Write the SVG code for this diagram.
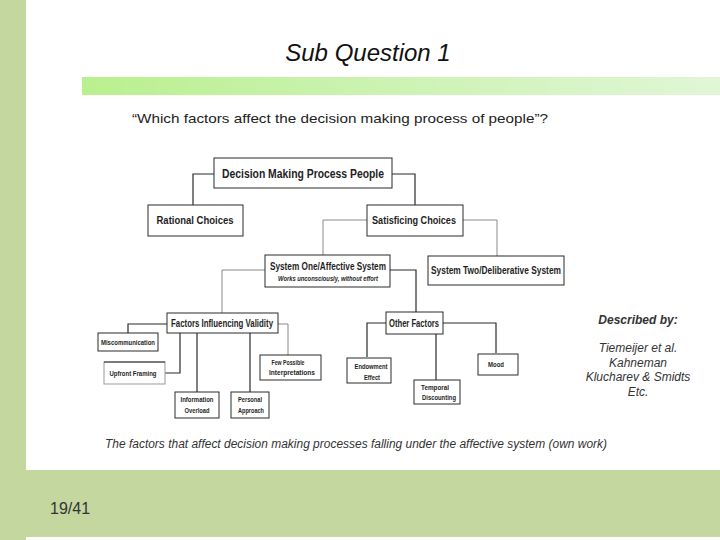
<svg xmlns="http://www.w3.org/2000/svg" width="720" height="540" viewBox="0 0 720 540">
<defs>
<linearGradient id="gbar" x1="0" y1="0" x2="1" y2="0">
<stop offset="0" stop-color="#b9f08e"/>
<stop offset="0.5" stop-color="#cdf3b4"/>
<stop offset="1" stop-color="#e1f6d6"/>
</linearGradient>
<style>
.box{fill:#fff;stroke:#2a2a2a;stroke-width:1}
.ln{fill:none;stroke:#2a2a2a;stroke-width:1.2}
.lg{fill:none;stroke:#8a8a8a;stroke-width:1}
.t{font-family:"Liberation Sans",Arial,sans-serif;font-weight:bold;fill:#1e1e1e;text-anchor:middle}
.side{font-family:"Liberation Sans",Arial,sans-serif;font-style:italic;fill:#333;text-anchor:middle;font-size:12px}
</style>
</defs>
<rect x="0" y="0" width="720" height="540" fill="#fff"/>
<rect x="0" y="0" width="26" height="540" fill="#c4d79f"/>
<rect x="0" y="470" width="720" height="67" fill="#c4d79f"/>
<rect x="82" y="77" width="638" height="18" fill="url(#gbar)"/>
<text x="368" y="61" font-family="Liberation Sans,Arial,sans-serif" font-style="italic" font-size="24" fill="#111" text-anchor="middle">Sub Question 1</text>
<text x="340" y="123" font-family="Liberation Sans,Arial,sans-serif" font-size="13" fill="#222" text-anchor="middle" textLength="416" lengthAdjust="spacingAndGlyphs">“Which factors affect the decision making process of people”?</text>

<g id="connectors">
<polyline class="ln" points="214,174 193,174 193,205"/>
<polyline class="ln" points="392,174 415,174 415,205"/>
<polyline class="lg" points="367,220 323,220 323,255"/>
<polyline class="lg" points="463,220 497,220 497,256"/>
<polyline class="lg" points="265,270 222,270 222,313"/>
<polyline class="ln" points="390,270 416,270 416,312"/>
<polyline class="ln" points="167,324 128,324 128,333"/>
<polyline class="ln" points="180,333 180,373 165,373"/>
<polyline class="ln" points="197,333 197,392"/>
<polyline class="ln" points="250,333 250,392"/>
<polyline class="lg" points="278,324 288,324 288,355"/>
<polyline class="ln" points="386,323 367,323 367,357"/>
<polyline class="ln" points="436,334 436,380"/>
<polyline class="ln" points="443,323 496,323 496,353"/>
</g>

<g id="n-dmpp"><rect class="box" x="214" y="158" width="178" height="30"/><text class="t" x="303" y="178" font-size="12" textLength="162" lengthAdjust="spacingAndGlyphs">Decision Making Process People</text></g>
<g id="n-rational"><rect class="box" x="148" y="205" width="95" height="31"/><text class="t" x="195" y="224" font-size="10.5" textLength="77" lengthAdjust="spacingAndGlyphs">Rational Choices</text></g>
<g id="n-satisficing"><rect class="box" x="367" y="205" width="96" height="31"/><text class="t" x="414" y="224" font-size="10.5" textLength="84" lengthAdjust="spacingAndGlyphs">Satisficing Choices</text></g>
<g id="n-system1"><rect class="box" x="265" y="255" width="125" height="32"/><text class="t" x="328" y="270" font-size="10" textLength="116" lengthAdjust="spacingAndGlyphs">System One/Affective System</text><text class="t" x="328" y="281" font-size="7.5" font-style="italic" textLength="100" lengthAdjust="spacingAndGlyphs">Works unconsciously, without effort</text></g>
<g id="n-system2"><rect class="box" x="428" y="256" width="136" height="29"/><text class="t" x="496" y="274" font-size="10" textLength="130" lengthAdjust="spacingAndGlyphs">System Two/Deliberative System</text></g>
<g id="n-fiv"><rect class="box" x="167" y="313" width="111" height="20"/><text class="t" x="222" y="327" font-size="10" textLength="102" lengthAdjust="spacingAndGlyphs">Factors Influencing Validity</text></g>
<g id="n-other"><rect class="box" x="386" y="312" width="57" height="22"/><text class="t" x="414" y="327" font-size="10" textLength="50" lengthAdjust="spacingAndGlyphs">Other Factors</text></g>
<g id="n-misc"><rect class="box" x="98" y="333" width="60" height="18"/><text class="t" x="128" y="345" font-size="7.5" textLength="54" lengthAdjust="spacingAndGlyphs">Miscommunication</text></g>
<g id="n-upfront"><rect class="box" x="104" y="362" width="61" height="22" style="stroke:#999"/><line x1="104" y1="362" x2="165" y2="362" stroke="#2a2a2a"/><text class="t" x="133" y="376" font-size="7.5" textLength="47" lengthAdjust="spacingAndGlyphs">Upfront Framing</text></g>
<g id="n-few"><rect class="box" x="260" y="355" width="61" height="25"/><text class="t" x="288" y="365" font-size="7.5" textLength="33" lengthAdjust="spacingAndGlyphs">Few Possible</text><text class="t" x="292" y="375" font-size="7.5" textLength="46" lengthAdjust="spacingAndGlyphs">Interpretations</text></g>
<g id="n-info"><rect class="box" x="175" y="392" width="44" height="26"/><text class="t" x="197" y="402" font-size="7.5" textLength="33" lengthAdjust="spacingAndGlyphs">Information</text><text class="t" x="197" y="413" font-size="7.5" textLength="25" lengthAdjust="spacingAndGlyphs">Overload</text></g>
<g id="n-personal"><rect class="box" x="231" y="392" width="38" height="26"/><text class="t" x="250" y="402" font-size="7.5" textLength="24" lengthAdjust="spacingAndGlyphs">Personal</text><text class="t" x="251" y="413" font-size="7.5" textLength="26" lengthAdjust="spacingAndGlyphs">Approach</text></g>
<g id="n-endow"><rect class="box" x="347" y="358" width="44" height="25"/><text class="t" x="371" y="369" font-size="7.5" textLength="33" lengthAdjust="spacingAndGlyphs">Endowment</text><text class="t" x="372" y="380" font-size="7.5" textLength="16" lengthAdjust="spacingAndGlyphs">Effect</text></g>
<g id="n-temporal"><rect class="box" x="414" y="380" width="46" height="24"/><text class="t" x="435" y="390" font-size="7.5" textLength="28" lengthAdjust="spacingAndGlyphs">Temporal</text><text class="t" x="439" y="400" font-size="7.5" textLength="34" lengthAdjust="spacingAndGlyphs">Discounting</text></g>
<g id="n-mood"><rect class="box" x="478" y="354" width="40" height="21"/><text class="t" x="496" y="367" font-size="7.5" textLength="16" lengthAdjust="spacingAndGlyphs">Mood</text></g>

<text class="side" x="638" y="324" font-weight="bold">Described by:</text>
<text class="side" x="638" y="352">Tiemeijer et al.</text>
<text class="side" x="638" y="367">Kahneman</text>
<text class="side" x="638" y="381">Klucharev &amp; Smidts</text>
<text class="side" x="638" y="396">Etc.</text>

<text x="105" y="448" font-family="Liberation Sans,Arial,sans-serif" font-style="italic" font-size="12" fill="#333" textLength="502" lengthAdjust="spacingAndGlyphs">The factors that affect decision making processes falling under the affective system (own work)</text>
<text x="50" y="514" font-family="Liberation Sans,Arial,sans-serif" font-size="16" fill="#333">19/41</text>
</svg>
